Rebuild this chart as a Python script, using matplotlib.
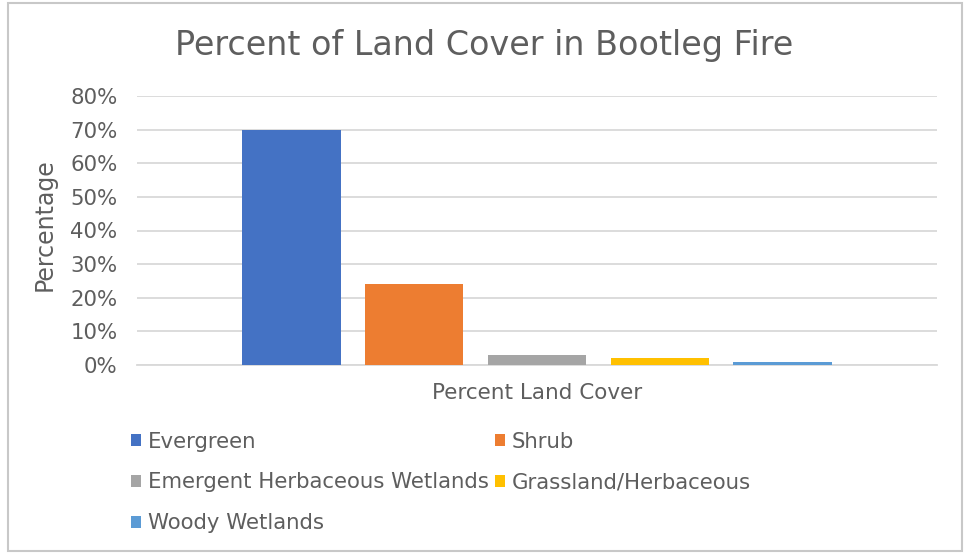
import matplotlib

matplotlib.use("Agg")
import matplotlib.pyplot as plt
from matplotlib.patches import Patch, Rectangle
from matplotlib.ticker import PercentFormatter

# Land cover share inside the Bootleg Fire perimeter
cover_types = [
    "Evergreen",
    "Shrub",
    "Emergent Herbaceous Wetlands",
    "Grassland/Herbaceous",
    "Woody Wetlands",
]
percent_cover = [0.70, 0.24, 0.03, 0.02, 0.01]
bar_colors = ["#4472C4", "#ED7D31", "#A5A5A5", "#FFC000", "#5B9BD5"]
y_ticks = [0.0, 0.1, 0.2, 0.3, 0.4, 0.5, 0.6, 0.7, 0.8]

text_color = "#5E5E5E"
grid_color = "#D9D9D9"
plt.rcParams["font.family"] = ["DejaVu Sans"]

W, H = 966, 554
fig = plt.figure(figsize=(W / 100, H / 100), dpi=100)
ax = fig.add_axes([137 / W, 1 - 365 / H, 800 / W, 269 / H])

# one category, five series side by side
n = len(cover_types)
positions = [i - (n - 1) / 2 for i in range(n)]
for x, val, col in zip(positions, percent_cover, bar_colors):
    ax.bar(x, val, width=0.8, color=col, zorder=3)

ax.set_xlim(-400 / 122.75, 400 / 122.75)
ax.set_ylim(0, 0.8)
ax.set_yticks(y_ticks)
ax.yaxis.set_major_formatter(PercentFormatter(1.0, decimals=0))
ax.set_xticks([])
ax.grid(axis="y", color=grid_color, linewidth=1.3, zorder=0)
for side in ["top", "right", "left"]:
    ax.spines[side].set_visible(False)
ax.spines["bottom"].set_color(grid_color)
ax.spines["bottom"].set_linewidth(1.3)
ax.tick_params(axis="y", length=0, pad=14, labelsize=15.3, labelcolor=text_color)

ax.set_ylabel("Percentage", fontsize=17, color=text_color)
ax.yaxis.set_label_coords(-0.101, 0.52)
ax.set_xlabel("Percent Land Cover", fontsize=15.5, color=text_color, labelpad=13)

fig.text(484 / W, 1 - 45 / H, "Percent of Land Cover in Bootleg Fire",
         ha="center", va="center", fontsize=24, color=text_color)

# legend laid out row by row, two columns
order = [0, 2, 4, 1, 3]
handles = [Patch(facecolor=bar_colors[i], edgecolor="none") for i in order]
labels = [cover_types[i] for i in order]
fig.legend(handles, labels, ncol=2, loc="upper left",
           bbox_to_anchor=(122 / W, 1 - 423 / H), frameon=False,
           fontsize=15.3, labelcolor=text_color, handlelength=0.5,
           handleheight=0.5, handletextpad=0.3, columnspacing=0.3,
           labelspacing=0.98, borderaxespad=0)

fig.patches.append(Rectangle((8 / W, 3 / H), 954 / W, 548 / H,
                             transform=fig.transFigure, fill=False,
                             edgecolor="#C8C8C8", linewidth=1.5))

fig.savefig("out.png", dpi=100)
